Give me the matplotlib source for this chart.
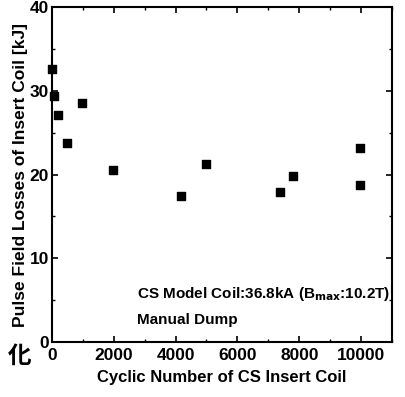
import matplotlib
matplotlib.use("Agg")
import matplotlib.pyplot as plt
from matplotlib.ticker import MultipleLocator

plt.rcParams['font.family'] = ['Liberation Sans', 'Noto Sans CJK JP', 'DejaVu Sans']
plt.rcParams['font.weight'] = 'bold'

# data
cycles = [0, 65, 200, 490, 970, 1970, 4170, 4980, 7380, 7800, 9970, 9970]
losses = [32.6, 29.4, 27.1, 23.8, 28.5, 20.6, 17.4, 21.3, 17.9, 19.8, 23.2, 18.8]
xticks = [0, 2000, 4000, 6000, 8000, 10000]
yticks = [0, 10, 20, 30, 40]

fig = plt.figure(figsize=(4.05, 3.97), dpi=100)
ax = fig.add_axes([0.128, 0.1385, 0.84, 0.8435])

ax.scatter(cycles, losses, marker='s', s=40, color='black', zorder=3, clip_on=False)

ax.set_xlim(0, 11000)
ax.set_ylim(0, 40)
ax.set_xticks(xticks)
ax.set_yticks(yticks)
ax.xaxis.set_minor_locator(MultipleLocator(1000))
ax.yaxis.set_minor_locator(MultipleLocator(5))
ax.tick_params(which='both', direction='in', top=True, right=True, labelsize=12.5)
ax.tick_params(axis='x', pad=4)
ax.tick_params(axis='y', pad=2)
ax.tick_params(which='major', length=4, width=1.2)
ax.tick_params(which='minor', length=2, width=1)
for s in ax.spines.values():
    s.set_linewidth(1.5)

ax.set_xlabel('Cyclic Number of CS Insert Coil', fontsize=12, fontweight='bold', labelpad=5)
ax.set_ylabel('Pulse Field Losses of Insert Coil [kJ]', fontsize=12.5, fontweight='bold', labelpad=1)

ax.text(2750, 5.3, r'CS Model Coil:36.8kA (B$_{\mathbf{max}}$:10.2T)', fontsize=11, fontweight='bold')
ax.text(2750, 2.2, 'Manual Dump', fontsize=11, fontweight='bold')

fig.text(0.02, 0.085, '化', fontsize=17, family=['Noto Sans CJK JP'])

fig.savefig('out.png', dpi=100)
